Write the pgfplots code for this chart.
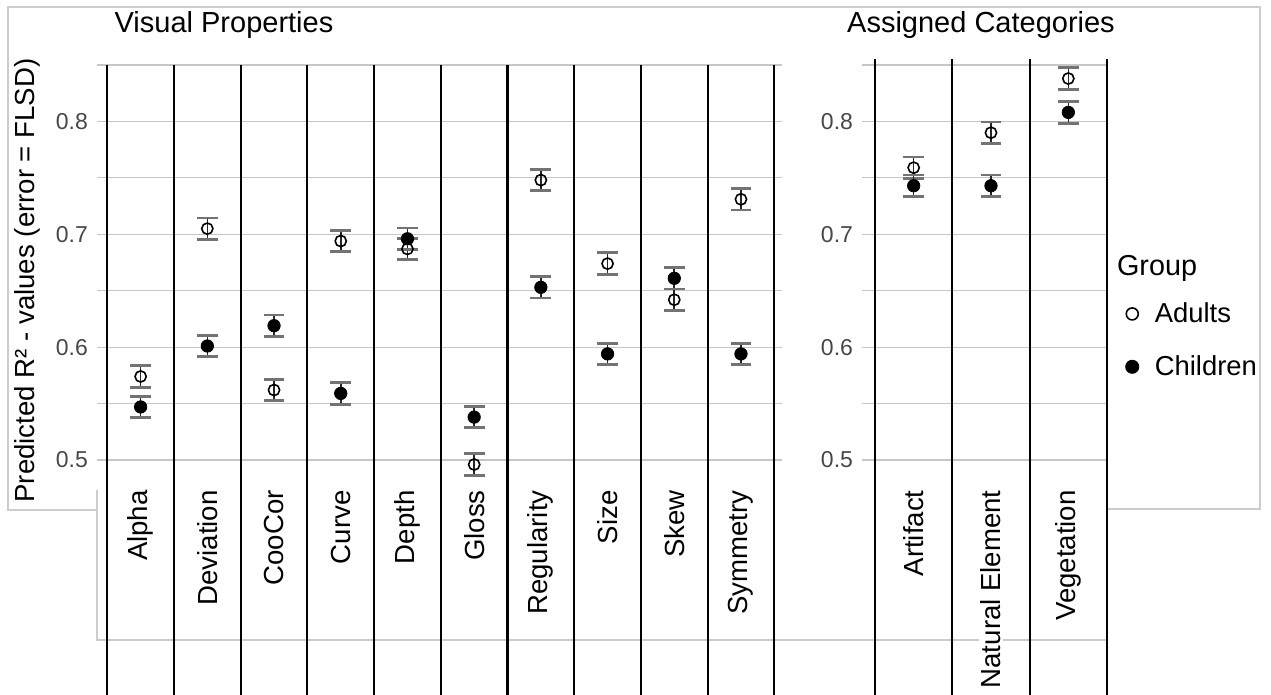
\documentclass[border=0pt]{standalone}
\usepackage{pgfplots}
\pgfplotsset{compat=1.18}
\usepackage{pgfplotstable}
\usepackage{fontspec}
\setmainfont{Liberation Sans}

\pgfplotstableread{
x adult child err
1 0.574 0.547 0.0095
2 0.705 0.601 0.0095
3 0.562 0.619 0.0095
4 0.694 0.559 0.0095
5 0.687 0.696 0.0095
6 0.496 0.538 0.0095
7 0.748 0.653 0.0095
8 0.674 0.594 0.0095
9 0.642 0.661 0.0095
10 0.731 0.594 0.0095
}\visualtab
\pgfplotstableread{
x adult child err
1 0.759 0.743 0.0095
2 0.790 0.743 0.0095
3 0.838 0.808 0.0095
}\assignedtab

\pgfplotsset{
  panel/.style={
    scale only axis, height=197.5pt, ymin=0.5, ymax=0.85,
    axis line style={draw=none}, major tick length=0pt, minor tick length=0pt,
    ytick={0.5,0.6,0.7,0.8}, minor ytick={0.55,0.65,0.75,0.85},
    ymajorgrids, yminorgrids,
    major grid style={black!22, line width=0.6pt},
    minor grid style={black!22, line width=0.6pt},
    /pgf/number format/assume math mode=true,
    yticklabel style={font=\fontsize{11.5}{13}\selectfont, text=black!72, xshift=-1pt},
    xticklabel style={rotate=90, anchor=east, font=\fontsize{13.8}{15}\selectfont, fill=white, inner sep=1pt},
    xticklabel shift=14pt,
    clip=false, anchor=south west,
  },
  ebars/.style={
    error bars/y dir=both, error bars/y explicit,
    error bars/error bar style={line width=0.8pt, black!85},
    error bars/error mark options={rotate=90, mark size=5.2pt, line width=1.4pt, black!55}},
  adults/.style={only marks, mark=o, mark size=2.8pt, line width=0.8pt, black, ebars},
  children/.style={only marks, mark=*, mark size=3.1pt, black, ebars},
}

\begin{document}
\begin{tikzpicture}
\path[use as bounding box] (0,0) rectangle (635.5pt,347.5pt);
% light frame lines
\draw[black!20, line width=0.6pt] (553.5pt,93pt) -- (630pt,93pt) -- (630pt,344pt) -- (4pt,344pt) -- (4pt,92.5pt) -- (48.5pt,92.5pt);
\draw[black!20, line width=0.6pt] (48.5pt,102.5pt) -- (48.5pt,27.5pt) -- (553.5pt,27.5pt);

\begin{axis}[panel, at={(48.5pt,117.5pt)}, width=342.5pt, xmin=0.346, xmax=10.615,
  xtick={1,...,10},
  xticklabels={Alpha,Deviation,CooCor,Curve,Depth,Gloss,Regularity,Size,Skew,Symmetry}]
\pgfplotsinvokeforeach{0.5,1.5,2.5,3.5,4.5,5.5,6.5,7.5,8.5,9.5,10.5}{
  \draw[black, line width=1.1pt] (axis cs:#1,0.85) -- (axis cs:#1,0.2915);
}
\addplot[adults] table[x=x, y=adult, y error=err]{\visualtab};
\addplot[children] table[x=x, y=child, y error=err]{\visualtab};
\end{axis}

\begin{axis}[panel, at={(431pt,117.5pt)}, width=122.5pt, xmin=0.332, xmax=3.5,
  xtick={1,2,3},
  xticklabels={Artifact,Natural Element,Vegetation},
  legend style={draw=none, fill=none, at={(1.05,0.42)}, anchor=north west,
    font=\fontsize{13.7}{15}\selectfont, row sep=11pt, column sep=6pt},
  legend cell align=left]
\pgfplotsinvokeforeach{0.5,1.5,2.5,3.5}{
  \draw[black, line width=1.1pt] (axis cs:#1,0.855) -- (axis cs:#1,0.2915);
}
\addplot[forget plot, adults] table[x=x, y=adult, y error=err]{\assignedtab};
\addplot[forget plot, children] table[x=x, y=child, y error=err]{\assignedtab};
\addlegendimage{only marks, mark=o, mark size=3pt, line width=0.8pt, black}
\addlegendentry{Adults}
\addlegendimage{only marks, mark=*, mark size=3.3pt, black}
\addlegendentry{Children}
\end{axis}

\node[rotate=90, font=\fontsize{13.8}{15}\selectfont] at (13.5pt,207.25pt) {Predicted R² - values (error = FLSD)};
\node[font=\fontsize{14.5}{16}\selectfont] at (112pt,335pt) {Visual Properties};
\node[font=\fontsize{14.5}{16}\selectfont] at (490.5pt,335pt) {Assigned Categories};
\node[anchor=west, font=\fontsize{14.4}{16}\selectfont] at (555pt,213.5pt) {Group};
\end{tikzpicture}
\end{document}
